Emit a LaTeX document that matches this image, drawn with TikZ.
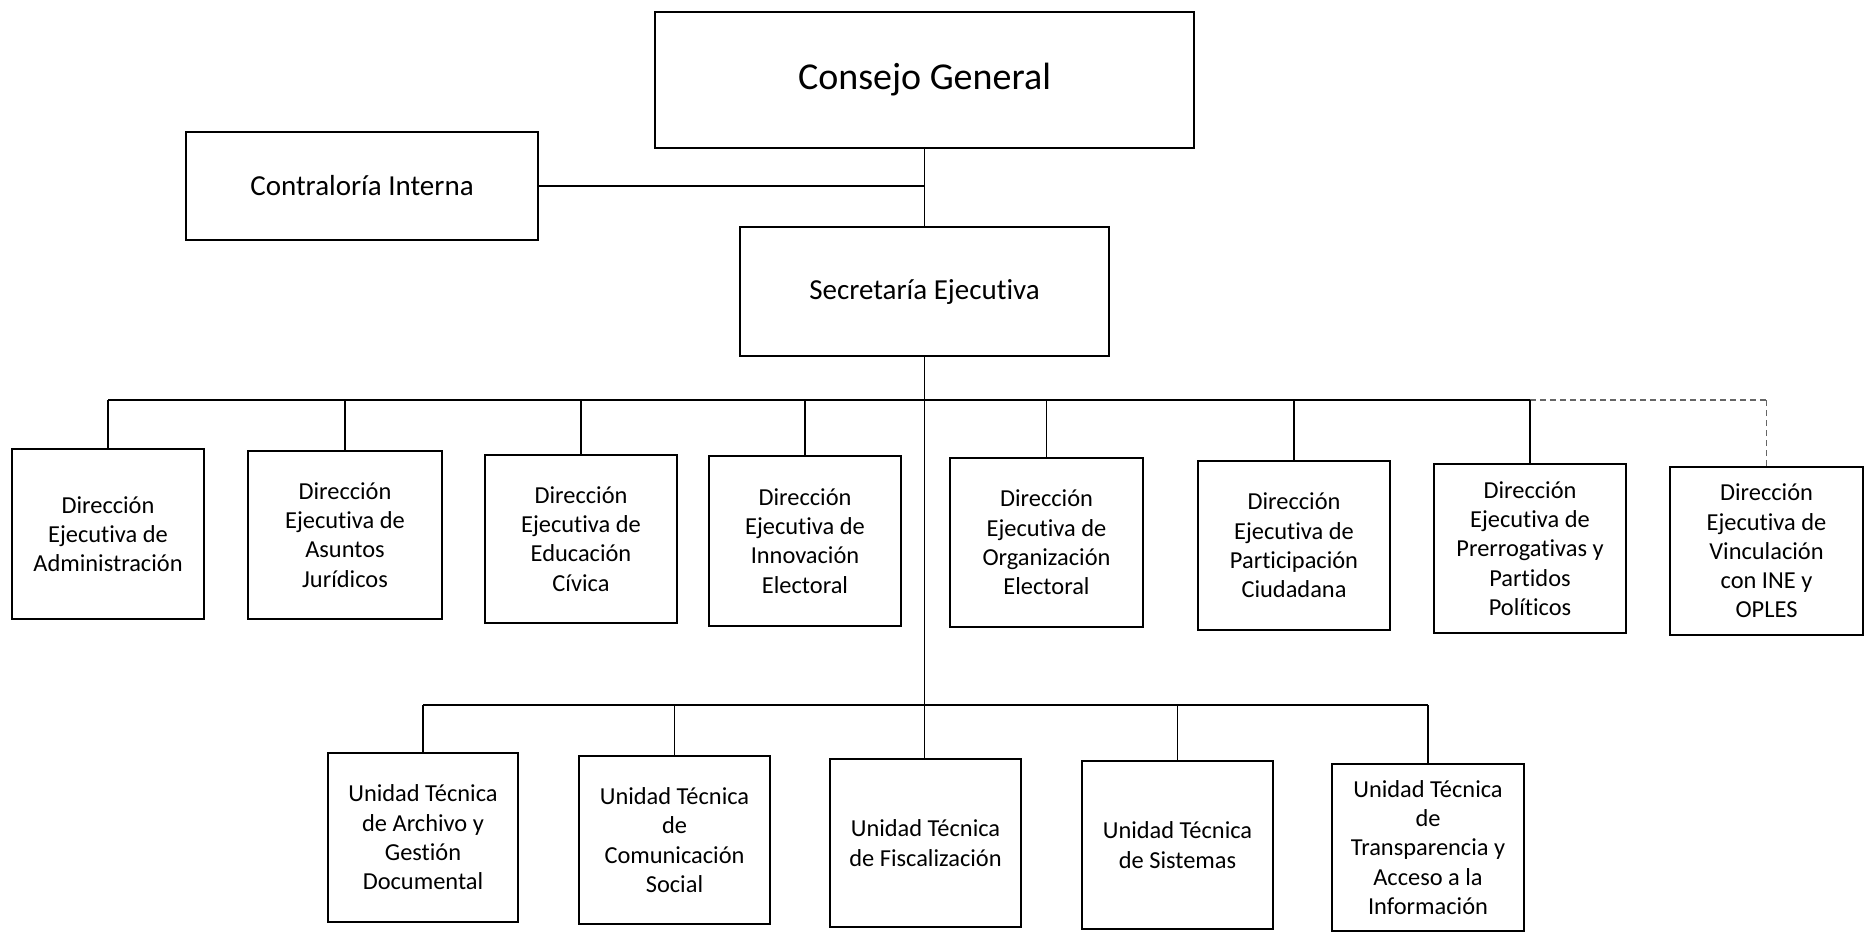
\documentclass[tikz,border=0pt]{standalone}
\usepackage{fontspec}
\setmainfont{Carlito}[RawFeature={-liga;-clig;-calt;-dlig}]
\newcommand{\obox}[7][]{%
  \node[box,#1,minimum width={(#4-#2)*0.5pt},minimum height={(#5-#3)*0.5pt}] (#7) at ({(#2+#4)/2},{(#3+#5)/2}) {#6};}
\begin{document}
\begin{tikzpicture}[x=0.5pt,y=-0.5pt,
  box/.style={draw,line width=1pt,align=center,inner sep=0pt,fill=white,
    font=\fontsize{12.2}{14.65}\selectfont},
  big/.style={font=\fontsize{19}{23}\selectfont},
  mid/.style={font=\fontsize{14.5}{17.5}\selectfont},
  link/.style={line width=0.75pt},
  faint/.style={line width=0.6pt,densely dashed,black!60}]
\useasboundingbox (0,0) rectangle (1872,934);

% top level
\obox[big]{655}{12}{1194}{148}{Consejo General}{cg}
\obox[mid]{186}{132}{538}{240}{Contraloría Interna}{ci}
\obox[mid]{740}{227}{1109}{356}{Secretaría Ejecutiva}{sec}

% direcciones
\obox{12}{449}{204}{619}{Dirección\\Ejecutiva de\\Administración}{d1}
\obox{248}{451}{442}{619}{Dirección\\Ejecutiva de\\Asuntos\\Jurídicos}{d2}
\obox{485}{455}{677}{623}{Dirección\\Ejecutiva de\\Educación\\Cívica}{d3}
\obox{709}{456}{901}{626}{Dirección\\Ejecutiva de\\Innovación\\Electoral}{d4}
\obox{950}{458}{1143}{627}{Dirección\\Ejecutiva de\\Organización\\Electoral}{d5}
\obox{1198}{461}{1390}{630}{Dirección\\Ejecutiva de\\Participación\\Ciudadana}{d6}
\obox{1434}{464}{1626}{633}{Dirección\\Ejecutiva de\\Prerrogativas y\\Partidos\\Políticos}{d7}
\obox{1670}{467}{1863}{635}{Dirección\\Ejecutiva de\\Vinculación\\con INE y\\OPLES}{d8}

% unidades
\obox{328}{753}{518}{922}{Unidad Técnica\\de Archivo y\\Gestión\\Documental}{u1}
\obox{579}{756}{770}{924}{Unidad Técnica\\de\\Comunicación\\Social}{u2}
\obox{830}{759}{1021}{927}{Unidad Técnica\\de Fiscalización}{u3}
\obox{1082}{761}{1273}{929}{Unidad Técnica\\de Sistemas}{u4}
\obox{1332}{764}{1524}{931}{Unidad Técnica\\de\\Transparencia y\\Acceso a la\\Información}{u5}

\coordinate (busd) at (0,400);
\coordinate (busu) at (0,705);

% connectors
\draw[link] (cg.south) -- (sec.north);
\draw[link] (ci.east) -- (ci.east -| cg.south);
\draw[link] (sec.south) -- (sec.south |- u3.north);

\draw[link] (d1.north |- busd) -- (d7.north |- busd);
\draw[faint] (d7.north |- busd) -- (d8.north |- busd);
\foreach \n in {d1,d2,d3,d4,d5,d6,d7}
  \draw[link] (\n.north) -- (\n.north |- busd);
\draw[faint] (d8.north) -- (d8.north |- busd);

\draw[link] (u1.north |- busu) -- (u5.north |- busu);
\foreach \n in {u1,u2,u4,u5}
  \draw[link] (\n.north) -- (\n.north |- busu);
\end{tikzpicture}
\end{document}
